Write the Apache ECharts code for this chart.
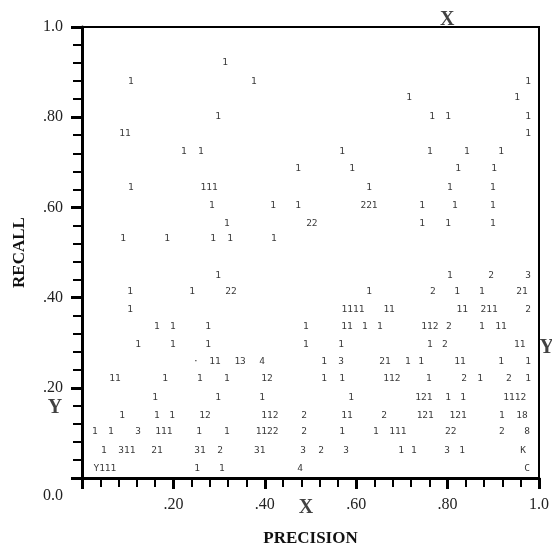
<!DOCTYPE html>
<html><head><meta charset="utf-8">
<script src="https://cdn.jsdelivr.net/npm/echarts@6/dist/echarts.min.js"></script>
<style>html,body{margin:0;padding:0;background:#fff}#c{width:552px;height:552px}</style>
</head><body><div id="c"></div>
<script>
// Recall value of each printed row (top to bottom)
const rowRecall = [0.921, 0.879, 0.843, 0.801, 0.764, 0.724, 0.687, 0.645, 0.605, 0.565, 0.532, 0.450,
  0.413, 0.373, 0.336, 0.296, 0.258, 0.221, 0.179, 0.139, 0.102, 0.062, 0.022];
// Precision of each printed cell in the row
const rowPrecision = [
  [0.313],
  [0.107, 0.376, 0.976],
  [0.716, 0.952],
  [0.298, 0.766, 0.801, 0.976],
  [0.094, 0.976],
  [0.223, 0.260, 0.569, 0.761, 0.842, 0.917],
  [0.473, 0.591, 0.823, 0.902],
  [0.107, 0.278, 0.628, 0.805, 0.899],
  [0.284, 0.418, 0.473, 0.628, 0.744, 0.816, 0.899],
  [0.317, 0.503, 0.744, 0.801, 0.899],
  [0.090, 0.186, 0.287, 0.324, 0.420],
  [0.298, 0.805, 0.895, 0.976],
  [0.105, 0.241, 0.326, 0.628, 0.768, 0.821, 0.875, 0.963],
  [0.105, 0.593, 0.672, 0.832, 0.891, 0.976],
  [0.164, 0.199, 0.276, 0.490, 0.580, 0.619, 0.652, 0.761, 0.803, 0.875, 0.917],
  [0.123, 0.199, 0.276, 0.490, 0.567, 0.761, 0.794, 0.958],
  [0.249, 0.291, 0.346, 0.394, 0.530, 0.567, 0.663, 0.713, 0.742, 0.827, 0.917, 0.976],
  [0.072, 0.182, 0.258, 0.317, 0.405, 0.530, 0.569, 0.678, 0.759, 0.836, 0.871, 0.934, 0.976],
  [0.160, 0.298, 0.394, 0.589, 0.748, 0.801, 0.834, 0.947],
  [0.088, 0.164, 0.197, 0.269, 0.411, 0.486, 0.580, 0.661, 0.751, 0.823, 0.919, 0.963],
  [0.028, 0.063, 0.123, 0.179, 0.256, 0.317, 0.405, 0.486, 0.569, 0.643, 0.691, 0.807, 0.919, 0.974],
  [0.048, 0.098, 0.164, 0.258, 0.302, 0.389, 0.484, 0.523, 0.578, 0.698, 0.726, 0.799, 0.832, 0.965],
  [0.050, 0.252, 0.306, 0.477, 0.974]
];
// Printed symbol (count) of each cell
const rowSymbols = [
  ['1'],
  ['1', '1', '1'],
  ['1', '1'],
  ['1', '1', '1', '1'],
  ['11', '1'],
  ['1', '1', '1', '1', '1', '1'],
  ['1', '1', '1', '1'],
  ['1', '111', '1', '1', '1'],
  ['1', '1', '1', '221', '1', '1', '1'],
  ['1', '22', '1', '1', '1'],
  ['1', '1', '1', '1', '1'],
  ['1', '1', '2', '3'],
  ['1', '1', '22', '1', '2', '1', '1', '21'],
  ['1', '1111', '11', '11', '211', '2'],
  ['1', '1', '1', '1', '11', '1', '1', '112', '2', '1', '11'],
  ['1', '1', '1', '1', '1', '1', '2', '11'],
  ['·', '11', '13', '4', '1', '3', '21', '1', '1', '11', '1', '1'],
  ['11', '1', '1', '1', '12', '1', '1', '112', '1', '2', '1', '2', '1'],
  ['1', '1', '1', '1', '121', '1', '1', '1112'],
  ['1', '1', '1', '12', '112', '2', '11', '2', '121', '121', '1', '18'],
  ['1', '1', '3', '111', '1', '1', '1122', '2', '1', '1', '111', '22', '2', '8'],
  ['1', '311', '21', '31', '2', '31', '3', '2', '3', '1', '1', '3', '1', 'K'],
  ['Y111', '1', '1', '4', 'C']
];
// Bold X / Y markers placed around the frame
const markerPrecision = [0.799, 0.490, -0.059, 1.017];
const markerRecall = [1.015, -0.066, 0.155, 0.289];
const markerText = ['X', 'X', 'Y', 'Y'];

const cells = [];
rowRecall.forEach((r, i) => {
  rowPrecision[i].forEach((p, j) => cells.push([p, r, rowSymbols[i][j]]));
});
const markers = markerText.map((t, i) => [markerPrecision[i], markerRecall[i], t]);

const serif = 'Liberation Serif';
const fmt = v => {
  if (Math.abs(v - 1) < 1e-9) return '1.0';
  return '.' + Math.round(v * 100);
};

const chart = echarts.init(document.getElementById('c'));
chart.setOption({
  animation: false,
  backgroundColor: '#fff',
  grid: { left: 82, right: 13, top: 27, bottom: 72, show: true, borderColor: '#000', borderWidth: 2 },
  xAxis: {
    type: 'value', min: 0, max: 1, interval: 0.2,
    name: 'PRECISION', nameLocation: 'middle', nameGap: 52, nameMoveOverlap: false,
    nameTextStyle: { fontFamily: serif, fontWeight: 'bold', fontSize: 17, color: '#111' },
    axisLine: { show: true, onZero: false, lineStyle: { color: '#000', width: 3 } },
    axisTick: { show: true, length: 11, lineStyle: { color: '#000', width: 3 } },
    minorTick: { show: true, splitNumber: 5, length: 9, lineStyle: { color: '#000', width: 2 } },
    splitLine: { show: false }, minorSplitLine: { show: false },
    axisLabel: { margin: 19, fontFamily: serif, fontSize: 16, color: '#222',
      formatter: v => (v === 0 ? '' : fmt(v)) }
  },
  yAxis: {
    type: 'value', min: 0, max: 1, interval: 0.2,
    name: 'RECALL', nameLocation: 'middle', nameGap: 54, nameRotate: 90, nameMoveOverlap: false,
    nameTextStyle: { fontFamily: serif, fontWeight: 'bold', fontSize: 17, color: '#111' },
    axisLine: { show: true, onZero: false, lineStyle: { color: '#000', width: 3 } },
    axisTick: { show: true, length: 11, lineStyle: { color: '#000', width: 3 } },
    minorTick: { show: true, splitNumber: 5, length: 9, lineStyle: { color: '#000', width: 2 } },
    splitLine: { show: false }, minorSplitLine: { show: false },
    axisLabel: { margin: 19, fontFamily: serif, fontSize: 16, color: '#222',
      formatter: v => (v === 0 ? '{z|0.0}' : fmt(v)),
      rich: { z: { fontFamily: serif, fontSize: 16, color: '#222', padding: [36, 0, 0, 0] } } }
  },
  series: [
    {
      type: 'scatter', data: cells, symbolSize: 1, clip: false,
      itemStyle: { color: 'rgba(0,0,0,0)' },
      label: { show: true, position: 'inside', formatter: p => p.data[2],
        fontFamily: 'DejaVu Sans Mono', fontSize: 9.5, color: '#000' },
      emphasis: { disabled: true }
    },
    {
      type: 'scatter', data: markers, symbolSize: 1, clip: false,
      itemStyle: { color: 'rgba(0,0,0,0)' },
      label: { show: true, position: 'inside', formatter: p => p.data[2],
        fontFamily: serif, fontWeight: 'bold', fontSize: 20, color: '#111' },
      emphasis: { disabled: true }
    }
  ]
});
</script></body></html>
